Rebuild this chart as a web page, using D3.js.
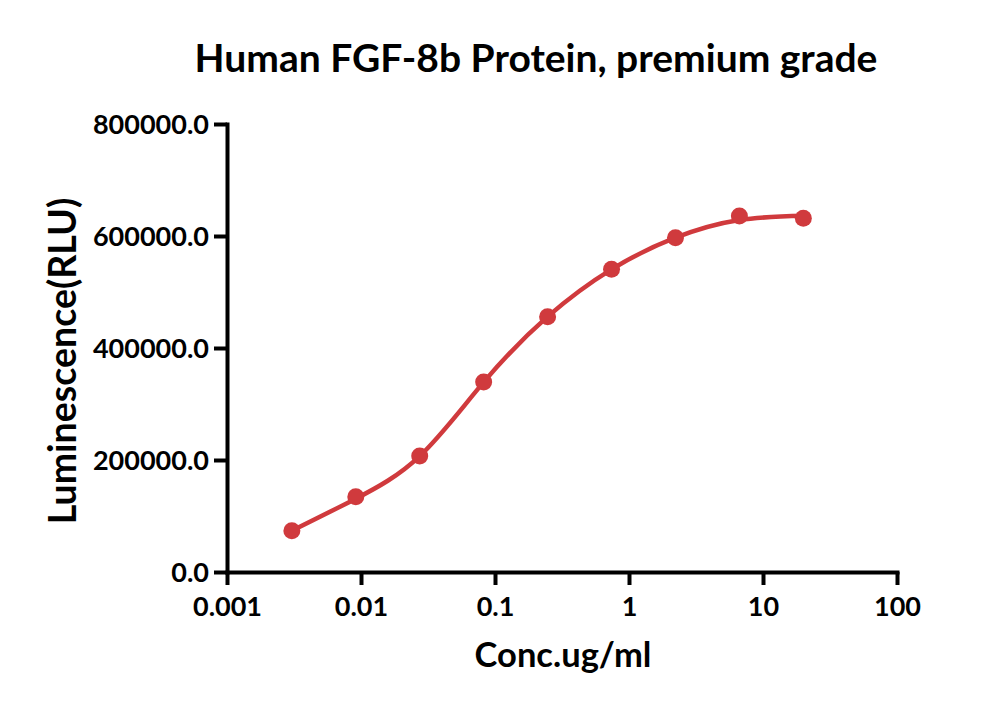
<!DOCTYPE html>
<html>
<head>
<meta charset="utf-8">
<script src="https://cdn.jsdelivr.net/npm/d3@7"></script>
<style>
  html, body { margin: 0; padding: 0; background: #fff; }
  svg { display: block; }
  text { font-family: Lato, "Open Sans", sans-serif; font-weight: 700; fill: #000; }
</style>
</head>
<body>
<svg id="chart" width="1000" height="708"></svg>
<script>
// ---- data ----
const concentrations = [0.003048, 0.009145, 0.02743, 0.08230, 0.2469, 0.7407, 2.222, 6.667, 20];
const luminescence   = [73750, 134500, 207100, 339300, 455900, 540500, 597000, 635700, 631600];
// fitted curve at the same concentrations
const fitCurve       = [73750, 131000, 207000, 339000, 456000, 540500, 597000, 628500, 636000];
const xTickValues = [0.001, 0.01, 0.1, 1, 10, 100];
const xTickLabels = ["0.001", "0.01", "0.1", "1", "10", "100"];
const yTickValues = [0, 200000, 400000, 600000, 800000];
const yTickLabels = ["0.0", "200000.0", "400000.0", "600000.0", "800000.0"];
const titleText = "Human FGF-8b Protein, premium grade";
const xTitle = "Conc.ug/ml";
const yTitle = "Luminescence(RLU)";

// ---- layout ----
const svg = d3.select("#chart");
const plotLeft = 227, plotRight = 897, plotTop = 124, plotBottom = 572;
const red = "#d03a3d";

const x = d3.scaleLog().domain([0.001, 100]).range([plotLeft, plotRight]);
const y = d3.scaleLinear().domain([0, 800000]).range([plotBottom, plotTop]);

// axes
const xAxis = d3.axisBottom(x).tickValues(xTickValues)
  .tickFormat((d, i) => xTickLabels[i]).tickSize(13).tickSizeOuter(0).tickPadding(6);
const yAxis = d3.axisLeft(y).tickValues(yTickValues)
  .tickFormat((d, i) => yTickLabels[i]).tickSize(13).tickSizeOuter(0).tickPadding(5);

const gx = svg.append("g").attr("transform", `translate(0,${plotBottom})`).call(xAxis);
const gy = svg.append("g").attr("transform", `translate(${plotLeft},0)`).call(yAxis);

[gx, gy].forEach(g => {
  g.select(".domain").attr("stroke", "#000").attr("stroke-width", 4).attr("stroke-linecap", "square");
  g.selectAll(".tick line").attr("stroke", "#000").attr("stroke-width", 4);
  g.selectAll(".tick text").attr("font-size", 27).attr("font-family", "Lato, sans-serif").attr("font-weight", 700).attr("fill", "#000");
});
gx.selectAll(".tick text").attr("y", 0).attr("dy", 0).attr("transform", "translate(0,616)").attr("transform", null)
  .attr("y", 44);
gy.selectAll(".tick text").attr("dy", "0.36em");

// curve
const line = d3.line()
  .x((d, i) => x(concentrations[i]))
  .y(d => y(d))
  .curve(d3.curveNatural);

svg.append("path")
  .datum(fitCurve)
  .attr("d", line)
  .attr("fill", "none")
  .attr("stroke", red)
  .attr("stroke-width", 4.5)
  .attr("stroke-linecap", "round");

// points
svg.append("g").selectAll("circle")
  .data(luminescence)
  .join("circle")
  .attr("cx", (d, i) => x(concentrations[i]))
  .attr("cy", d => y(d))
  .attr("r", 8.5)
  .attr("fill", red);

// titles
svg.append("text")
  .attr("x", 536).attr("y", 72)
  .attr("text-anchor", "middle")
  .attr("font-size", 39)
  .text(titleText);

svg.append("text")
  .attr("x", 563).attr("y", 667)
  .attr("text-anchor", "middle")
  .attr("font-size", 34.5)
  .text(xTitle);

svg.append("text")
  .attr("transform", "translate(76,361) rotate(-90)")
  .attr("text-anchor", "middle")
  .attr("font-size", 37.5)
  .text(yTitle);
</script>
</body>
</html>
